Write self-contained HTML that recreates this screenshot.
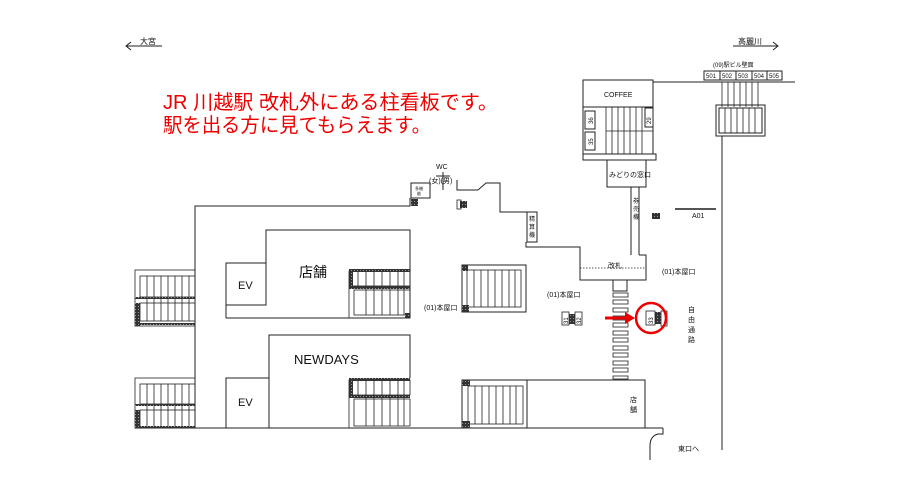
<!DOCTYPE html>
<html><head><meta charset="utf-8"><style>
html,body{margin:0;padding:0;background:#fff;}
svg{display:block;font-family:"Liberation Sans","Noto Sans CJK JP",sans-serif;}
</style></head><body>
<svg width="919" height="491" viewBox="0 0 919 491" xmlns="http://www.w3.org/2000/svg">
<defs>
<pattern id="hatch" width="3" height="3" patternUnits="userSpaceOnUse"><rect width="3" height="3" fill="#333"/><rect width="1" height="1" fill="#999"/></pattern>
</defs>
<rect width="919" height="491" fill="#fff"/>
<g fill="none" stroke="#222" stroke-width="1">
<line x1="126" y1="46" x2="162" y2="46"/><polyline points="131,42 126,46 131,50"/>
<line x1="733" y1="46" x2="778" y2="46"/><polyline points="773,42 778,46 773,50"/>
<line x1="653" y1="82" x2="795" y2="82"/>
<rect x="583" y="80" width="70" height="27"/>
<rect x="583" y="107" width="70" height="47"/>
<rect x="583" y="154" width="73" height="6"/>
<g stroke-width="0.8"><line x1="606" y1="107" x2="606" y2="154"/><line x1="612" y1="107" x2="612" y2="154"/><line x1="618" y1="107" x2="618" y2="154"/><line x1="624" y1="107" x2="624" y2="154"/><line x1="630" y1="107" x2="630" y2="154"/><line x1="636" y1="107" x2="636" y2="154"/><line x1="642" y1="107" x2="642" y2="154"/><line x1="606" y1="131" x2="653" y2="131"/></g>
<rect x="585" y="111" width="10" height="18"/><rect x="585" y="132" width="10" height="18"/><rect x="645" y="108" width="8" height="19"/>
<rect x="607" y="160" width="39" height="27"/>
<line x1="631" y1="187" x2="631" y2="255"/><line x1="639" y1="187" x2="639" y2="255"/>
<g stroke-width="0.8"><line x1="722" y1="82" x2="722" y2="107"/><line x1="728" y1="82" x2="728" y2="107"/><line x1="734" y1="82" x2="734" y2="107"/><line x1="740" y1="82" x2="740" y2="107"/><line x1="746" y1="82" x2="746" y2="107"/><line x1="752" y1="82" x2="752" y2="107"/><line x1="758" y1="82" x2="758" y2="107"/></g>
<rect x="716" y="105" width="49" height="31"/>
<rect x="719" y="108" width="43" height="25"/>
<g stroke-width="0.8"><line x1="725" y1="108" x2="725" y2="133"/><line x1="731" y1="108" x2="731" y2="133"/><line x1="737" y1="108" x2="737" y2="133"/><line x1="743" y1="108" x2="743" y2="133"/><line x1="749" y1="108" x2="749" y2="133"/><line x1="755" y1="108" x2="755" y2="133"/></g>
<line x1="722" y1="136" x2="722" y2="450"/>
<rect x="704" y="71" width="16" height="9"/><rect x="720" y="71" width="16" height="9"/><rect x="736" y="71" width="16" height="9"/><rect x="752" y="71" width="15" height="9"/><rect x="767" y="71" width="15" height="9"/>
<line x1="675" y1="209" x2="716" y2="209" stroke-width="2" stroke="#555"/>
<polyline points="195,428 195,206 410,206 410,198"/>
<rect x="411" y="183" width="19" height="15"/>
<line x1="443" y1="172" x2="443" y2="190"/><line x1="436" y1="176" x2="450" y2="176"/>
<polyline points="457,180 457,190 478,190 486,183 500,183 500,212 528,212"/>
<rect x="527" y="212" width="10" height="30"/>
<polyline points="526,242 526,247 580,247 580,280 646,280 646,255 639,255"/>
<line x1="580" y1="268" x2="646" y2="268" stroke-dasharray="1.5,1.5" stroke-width="0.8"/>
<rect x="613" y="280" width="14" height="11"/>
<g stroke-width="0.8">
<rect x="613" y="293" width="15" height="4"/><rect x="613" y="300" width="15" height="4"/><rect x="613" y="308" width="15" height="4"/><rect x="613" y="316" width="15" height="4"/><rect x="613" y="323" width="15" height="4"/><rect x="613" y="331" width="15" height="4"/><rect x="613" y="338" width="15" height="4"/><rect x="613" y="346" width="15" height="4"/><rect x="613" y="353" width="15" height="4"/><rect x="613" y="361" width="15" height="4"/><rect x="613" y="368" width="15" height="4"/><rect x="613" y="376" width="15" height="3"/>
</g>
<polyline points="226,318 410,318 410,230 266,230 266,263 226,263 226,318"/>
<polyline points="266,263 266,305 226,305"/>
<polyline points="226,428 226,378 269,378 269,335 410,335 410,378"/>
<line x1="269" y1="378" x2="269" y2="428"/>
<line x1="135" y1="428" x2="663" y2="428"/>
<rect x="462" y="380" width="65" height="48"/>
<rect x="527" y="380" width="118" height="48"/>
<path d="M663,428 L663,434 L658,434 Q650,436 650,446 L650,460"/>
<rect x="462" y="265" width="64" height="47"/>
</g>
<g fill="none" stroke="#222" stroke-width="0.8">
<rect x="135" y="270" width="60" height="56"/><rect x="140" y="276" width="55" height="21"/><rect x="140" y="303" width="55" height="18"/>
<line x1="147" y1="276" x2="147" y2="321"/><line x1="154" y1="276" x2="154" y2="321"/><line x1="161" y1="276" x2="161" y2="321"/><line x1="168" y1="276" x2="168" y2="321"/><line x1="175" y1="276" x2="175" y2="321"/><line x1="182" y1="276" x2="182" y2="321"/><line x1="189" y1="276" x2="189" y2="321"/>
<rect x="135" y="378" width="60" height="50"/><rect x="140" y="384" width="55" height="20"/><rect x="140" y="410" width="55" height="17"/>
<line x1="147" y1="384" x2="147" y2="427"/><line x1="154" y1="384" x2="154" y2="427"/><line x1="161" y1="384" x2="161" y2="427"/><line x1="168" y1="384" x2="168" y2="427"/><line x1="175" y1="384" x2="175" y2="427"/><line x1="182" y1="384" x2="182" y2="427"/><line x1="189" y1="384" x2="189" y2="427"/>
<rect x="349" y="271" width="61" height="15"/><rect x="354" y="290" width="56" height="25"/>
<line x1="358" y1="271" x2="358" y2="286"/><line x1="366" y1="271" x2="366" y2="315"/><line x1="374" y1="271" x2="374" y2="315"/><line x1="382" y1="271" x2="382" y2="315"/><line x1="390" y1="271" x2="390" y2="315"/><line x1="398" y1="271" x2="398" y2="315"/><line x1="404" y1="271" x2="404" y2="315"/>
<line x1="349" y1="286" x2="349" y2="318"/>
<rect x="349" y="380" width="61" height="15"/><rect x="354" y="399" width="56" height="27"/>
<line x1="358" y1="380" x2="358" y2="395"/><line x1="366" y1="380" x2="366" y2="426"/><line x1="374" y1="380" x2="374" y2="426"/><line x1="382" y1="380" x2="382" y2="426"/><line x1="390" y1="380" x2="390" y2="426"/><line x1="398" y1="380" x2="398" y2="426"/><line x1="404" y1="380" x2="404" y2="426"/>
<line x1="349" y1="395" x2="349" y2="428"/>
<rect x="467" y="270" width="54" height="37"/>
<line x1="474" y1="270" x2="474" y2="307"/><line x1="481" y1="270" x2="481" y2="307"/><line x1="488" y1="270" x2="488" y2="307"/><line x1="495" y1="270" x2="495" y2="307"/><line x1="502" y1="270" x2="502" y2="307"/><line x1="509" y1="270" x2="509" y2="307"/><line x1="515" y1="270" x2="515" y2="307"/>
<rect x="468" y="386" width="55" height="38"/>
<line x1="475" y1="386" x2="475" y2="424"/><line x1="482" y1="386" x2="482" y2="424"/><line x1="489" y1="386" x2="489" y2="424"/><line x1="496" y1="386" x2="496" y2="424"/><line x1="503" y1="386" x2="503" y2="424"/><line x1="510" y1="386" x2="510" y2="424"/><line x1="516" y1="386" x2="516" y2="424"/>
</g>
<g fill="url(#hatch)">
<rect x="135" y="303" width="5" height="23"/><rect x="135" y="297" width="60" height="2"/><rect x="135" y="323" width="60" height="2"/>
<rect x="135" y="410" width="5" height="18"/><rect x="135" y="404" width="60" height="2"/><rect x="135" y="426" width="60" height="2"/>
<rect x="349" y="269" width="61" height="3"/><rect x="349" y="269" width="4" height="17"/><rect x="349" y="286" width="61" height="3"/><rect x="405" y="313" width="5" height="5"/>
<rect x="349" y="378" width="61" height="3"/><rect x="349" y="378" width="4" height="17"/><rect x="349" y="395" width="61" height="3"/>
<rect x="462" y="265" width="6" height="6"/><rect x="462" y="305" width="7" height="7"/>
<rect x="462" y="380" width="8" height="6"/><rect x="462" y="421" width="8" height="7"/>
<rect x="411" y="199" width="7" height="7"/><rect x="460" y="201" width="7" height="7"/>
<rect x="652" y="213" width="8" height="6"/>
<rect x="569" y="314" width="6" height="10"/><rect x="655" y="312" width="6" height="12"/>
</g>
<g fill="none" stroke="#222" stroke-width="0.8"><rect x="457" y="200" width="4" height="9"/><rect x="562" y="312" width="7" height="13"/><rect x="575" y="312" width="7" height="13"/><rect x="646" y="311" width="9" height="14"/><rect x="661" y="311" width="6" height="15"/></g>
<circle cx="651" cy="318" r="15" fill="none" stroke="#e00" stroke-width="2.5"/>
<line x1="605" y1="318" x2="627" y2="318" stroke="#e00" stroke-width="3"/>
<polygon points="625,312 635,318 625,324" fill="#e00"/>
<g fill="#111">
<text x="140" y="44" font-size="8">大宮</text>
<text x="738" y="44" font-size="8">高麗川</text>
<text x="713" y="67" font-size="6">(09)駅ビル壁面</text>
<g font-size="6"><text x="706" y="78">501</text><text x="722" y="78">502</text><text x="738" y="78">503</text><text x="754" y="78">504</text><text x="769" y="78">505</text></g>
<text x="604" y="97" font-size="7">COFFEE</text>
<text x="609" y="177" font-size="7">みどりの窓口</text>
<text x="608" y="268" font-size="7">改札</text>
<text x="692" y="218" font-size="7">A01</text>
<text x="436" y="169" font-size="7">WC</text>
<text x="429" y="183" font-size="7">(女)(男)</text>
<text x="415" y="190" font-size="4">多機</text><text x="417" y="195" font-size="4">能</text>
<g font-size="6"><text x="529" y="221">精</text><text x="529" y="229">算</text><text x="529" y="237">機</text>
<text x="633" y="203">券</text><text x="633" y="211">売</text><text x="633" y="219">機</text></g>
<text x="662" y="274" font-size="7">(01)本屋口</text>
<text x="547" y="297" font-size="7">(01)本屋口</text>
<text x="424" y="310" font-size="7">(01)本屋口</text>
<g font-size="7"><text x="688" y="312">自</text><text x="688" y="322">由</text><text x="688" y="332">通</text><text x="688" y="342">路</text>
<text x="630" y="402">店</text><text x="630" y="412">舗</text></g>
<text x="678" y="451" font-size="7">東口へ</text>
<text x="299" y="277" font-size="14">店舗</text>
<text x="238" y="289" font-size="11">EV</text>
<text x="294" y="364" font-size="13">NEWDAYS</text>
<text x="238" y="406" font-size="11">EV</text>
<g font-size="6"><text transform="translate(593,124) rotate(-90)">36</text><text transform="translate(593,145) rotate(-90)">35</text><text transform="translate(651,124) rotate(-90)">29</text>
<text transform="translate(568,324) rotate(-90)">31</text><text transform="translate(581,324) rotate(-90)">32</text><text transform="translate(653,324) rotate(-90)">33</text></g>
</g>
<g fill="#e00" font-size="20">
<text x="163" y="109" textLength="335" lengthAdjust="spacingAndGlyphs">JR 川越駅 改札外にある柱看板です。</text>
<text x="163" y="132" textLength="268" lengthAdjust="spacingAndGlyphs">駅を出る方に見てもらえます。</text>
</g>
</svg>
</body></html>
